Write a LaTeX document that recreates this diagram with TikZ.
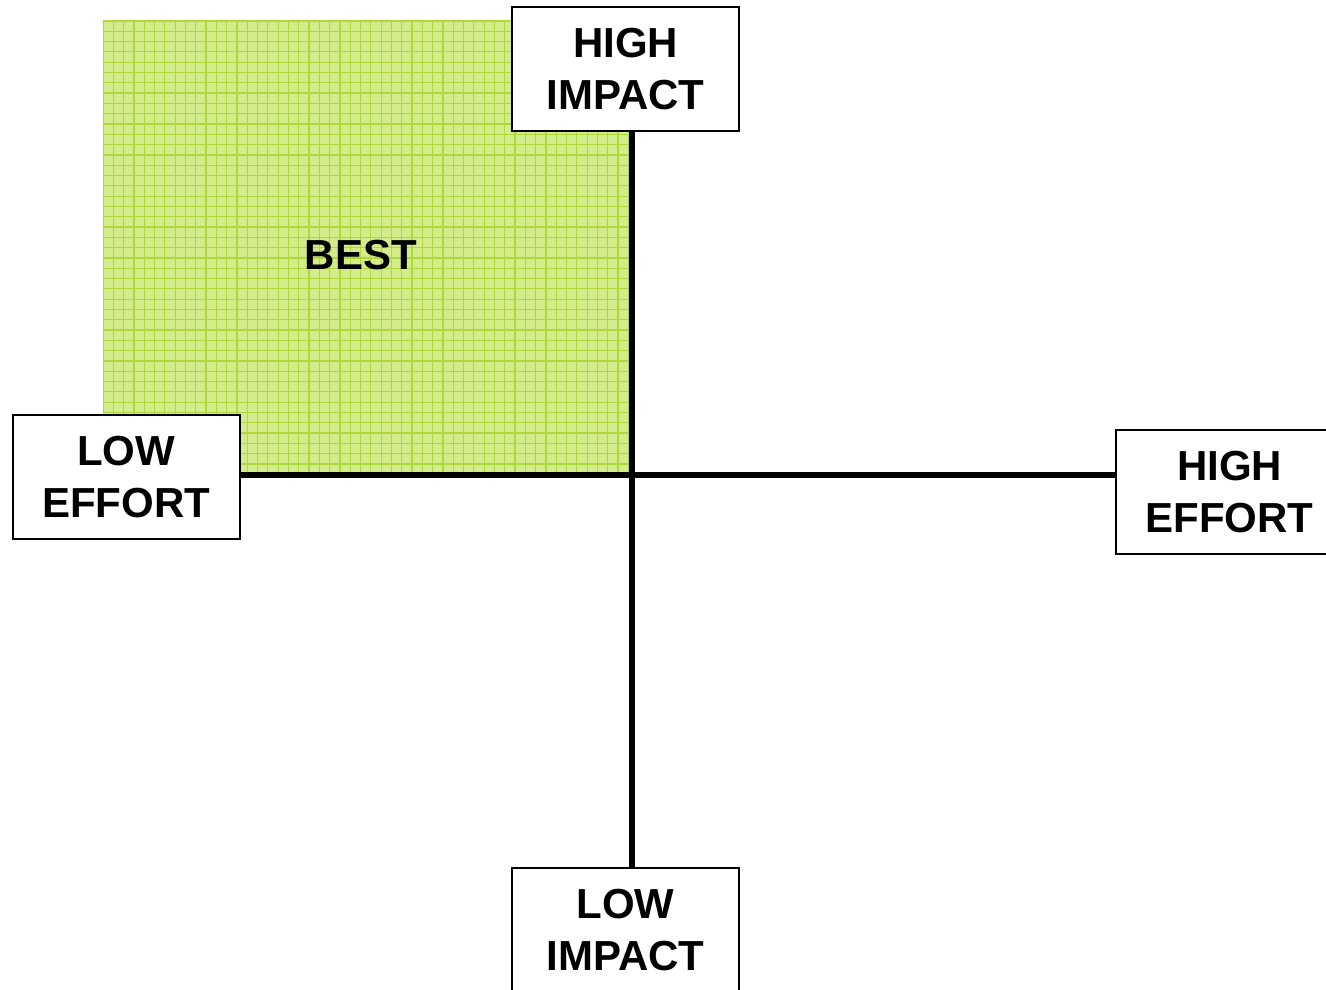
\documentclass[tikz,border=0pt]{standalone}
\usepackage{fontspec}
\setmainfont{Liberation Sans}
\usetikzlibrary{backgrounds}
\definecolor{bestfill}{RGB}{210,237,138}
\definecolor{bestgrid}{RGB}{176,216,62}
\definecolor{bestedge}{RGB}{70,100,10}
\tikzset{
  lbl/.style={draw=black, line width=2pt, fill=white, minimum width=227pt, minimum height=124pt,
    align=center, inner sep=0pt, font=\fontsize{42}{52}\selectfont\bfseries},
  axis/.style={line width=6pt, black}
}
\begin{document}
\begin{tikzpicture}[x=1pt,y=-1pt]
\useasboundingbox (0,0) rectangle (1326,990);
\clip (0,0) rectangle (1326,990);
% boxes
\node[lbl] (HI) at (625.5,69) {HIGH\\IMPACT};
\node[lbl] (LE) at (126,477) {LOW\\EFFORT};
\node[lbl] (HE) at (1229.5,492) {HIGH\\EFFORT};
\node[lbl] (LI) at (625.5,930) {LOW\\IMPACT};
\coordinate (O) at (632,475);
\begin{pgfonlayer}{background}
  % BEST quadrant
  \fill[bestfill] (103,21) rectangle (632,476);
  \begin{scope}
    \clip (103,21) rectangle (632,476);
    \foreach \i in {0,...,52} {
      \draw[bestgrid, line width=1.2pt] ({103+10.3*\i},21) -- ({103+10.3*\i},476);
    }
    \foreach \j in {0,...,45} {
      \draw[bestgrid, line width=1.2pt] (103,{21+10.3*\j}) -- (632,{21+10.3*\j});
    }
  \end{scope}
  \draw[bestedge, line width=3pt] (103,474) -- (630,474) -- (630,21);
  % axes
  \draw[axis] (LE.east |- O) -- (HE.west |- O);
  \draw[axis] (HI.south -| O) -- (LI.north -| O);
\end{pgfonlayer}
\node[font=\fontsize{42}{52}\selectfont\bfseries] (best) at (361,255) {BEST};
\end{tikzpicture}
\end{document}
